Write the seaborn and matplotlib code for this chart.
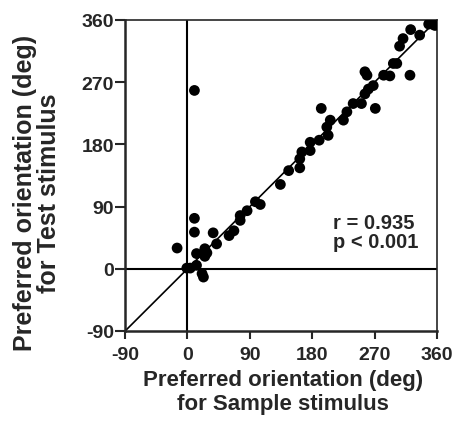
import numpy as np
import pandas as pd
import matplotlib
matplotlib.use("Agg")
import matplotlib.pyplot as plt
import seaborn as sns

# preferred orientation (deg), sample vs test stimulus
sample_deg = [10, 348, 353, 357, 322, 335, 311, 306, 302, 297,
              321, 292, 283, 268, 261, 256, 256, 259, 271, 251,
              239, 230, 225, 206, 201, 203, 193, 190, 177, 177,
              165, 162, 162, 146, 134, 98, 105, 86, 76, 76,
              67, 60, 37, 42, 25, 25, 28, 13, 10, 10,
              -15, -1, 4, 13, 21, 23]
test_deg = [258, 354, 354, 352, 346, 338, 333, 322, 297, 297,
            280, 279, 280, 265, 260, 253, 285, 280, 232, 239,
            239, 227, 215, 215, 205, 193, 232, 186, 183, 171,
            169, 159, 146, 142, 122, 97, 93, 84, 77, 70,
            55, 48, 52, 36, 29, 18, 23, 22, 73, 53,
            30, 1, 1, 5, -7, -12]
ticks = [-90, 0, 90, 180, 270, 360]
stats_text = "r = 0.935\np < 0.001"

df = pd.DataFrame({"sample": sample_deg, "test": test_deg})

sns.set_theme(style="ticks")
plt.rcParams['font.family'] = ['Liberation Sans', 'DejaVu Sans']
plt.rcParams['font.weight'] = 'bold'
plt.rcParams['axes.unicode_minus'] = False

fig = plt.figure(figsize=(4.6, 4.27), dpi=100)
ax = fig.add_axes([0.272, 0.2225, 0.678, 0.7285])

ax.plot([-90, 360], [-90, 360], color='black', lw=1.2, zorder=1)
ax.axvline(0, color='black', lw=1.5, zorder=1)
ax.axhline(0, color='black', lw=1.5, zorder=1)

sns.scatterplot(data=df, x="sample", y="test", color='black', s=60,
                edgecolor='none', ax=ax, zorder=3)

ax.set_xlim(-90, 360)
ax.set_ylim(-90, 360)
ax.set_xticks(ticks)
ax.set_yticks(ticks)
ax.set_xlabel("")
ax.set_ylabel("")
ax.tick_params(axis='x', direction='out', length=6, width=1.5, labelsize=14, pad=4.5)
ax.tick_params(axis='y', direction='out', length=7, width=1.5, labelsize=14, pad=1)
for lab in ax.get_xticklabels() + ax.get_yticklabels():
    lab.set_fontweight('bold')
for side in ['left', 'bottom']:
    ax.spines[side].set_linewidth(1.8)
for side in ['top', 'right']:
    ax.spines[side].set_linewidth(1.2)

fig.text(0.615, 0.080, "Preferred orientation (deg)\nfor Sample stimulus", fontsize=16,
         fontweight='bold', ha='center', va='center', linespacing=1.2)
fig.text(0.080, 0.548, "Preferred orientation (deg)\nfor Test stimulus", fontsize=18,
         fontweight='bold', ha='center', va='center', rotation=90, linespacing=1.0)

ax.text(210, 80, stats_text, fontsize=14.5, fontweight='bold', ha='left', va='top',
        linespacing=1.0)

fig.savefig("out.png", dpi=100)
